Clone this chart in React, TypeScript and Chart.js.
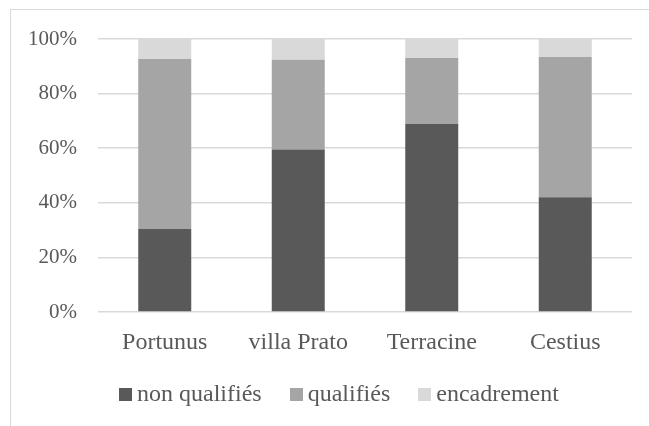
import React, { useEffect, useRef } from "react";
import { Chart, registerables } from "chart.js";

Chart.register(...registerables);

const categories = ["Portunus", "villa Prato", "Terracine", "Cestius"];
const nonQualifies = [30.4, 59.5, 68.9, 42.0];
const qualifies = [62.3, 32.9, 24.1, 51.4];
const encadrement = [7.3, 7.6, 7.0, 6.6];
const seriesNames = ["non qualifiés", "qualifiés", "encadrement"];
const seriesColors = ["#595959", "#a5a5a5", "#d9d9d9"];
const yTicks = [0, 20, 40, 60, 80, 100];

const FONT = "'Liberation Serif', 'Times New Roman', serif";
const TEXT = "#595959";

export default function App() {
  const ref = useRef<HTMLCanvasElement | null>(null);

  useEffect(() => {
    if (!ref.current) return;
    const values = [nonQualifies, qualifies, encadrement];
    const chart = new Chart(ref.current, {
      type: "bar",
      data: {
        labels: categories,
        datasets: values.map((v, i) => ({
          label: seriesNames[i],
          data: v,
          backgroundColor: seriesColors[i],
          borderWidth: 0,
          categoryPercentage: 1,
          barPercentage: 0.397,
        })),
      },
      options: {
        animation: false,
        responsive: false,
        devicePixelRatio: 1,
        layout: { padding: { left: 0, right: 17, top: 39, bottom: 0 } },
        plugins: {
          legend: { display: false },
          tooltip: { enabled: false },
        },
        scales: {
          x: {
            stacked: true,
            grid: { display: false },
            border: { display: false },
            ticks: {
              color: TEXT,
              font: { family: FONT, size: 24 },
              padding: 8,
              maxRotation: 0,
            },
            afterFit: (s: any) => {
              s.height = 114;
            },
          },
          y: {
            stacked: true,
            min: 0,
            max: 100,
            afterBuildTicks: (s: any) => {
              s.ticks = yTicks.map((v) => ({ value: v }));
            },
            grid: { color: "#d9d9d9", lineWidth: 1.5, drawTicks: false },
            border: { display: false },
            ticks: {
              color: TEXT,
              font: { family: FONT, size: 21 },
              padding: 21,
              callback: (v: any) => v + "%",
            },
            afterFit: (s: any) => {
              s.width = 98;
            },
          },
        },
      },
    });
    return () => chart.destroy();
  }, []);

  return (
    <div
      style={{
        position: "fixed",
        left: 0,
        top: 0,
        width: 649,
        height: 426,
        overflow: "hidden",
        background: "#fff",
      }}
    >
      <div
        style={{
          position: "absolute",
          left: 10,
          top: 9,
          width: 700,
          height: 500,
          border: "1px solid #d9d9d9",
        }}
      />
      <canvas
        ref={ref}
        width={649}
        height={426}
        style={{ position: "absolute", left: 0, top: 0, width: 649, height: 426 }}
      />
      <div
        style={{
          position: "absolute",
          left: 119,
          top: 381,
          display: "flex",
          alignItems: "flex-start",
          gap: 28,
          fontFamily: FONT,
          fontSize: 24,
          lineHeight: "24px",
          color: TEXT,
          whiteSpace: "nowrap",
        }}
      >
        {seriesNames.map((n, i) => (
          <div key={n} style={{ display: "flex", alignItems: "flex-start" }}>
            <span
              style={{
                display: "inline-block",
                width: 13,
                height: 13,
                marginTop: 7,
                marginRight: 5,
                background: seriesColors[i],
              }}
            />
            <span>{n}</span>
          </div>
        ))}
      </div>
    </div>
  );
}
